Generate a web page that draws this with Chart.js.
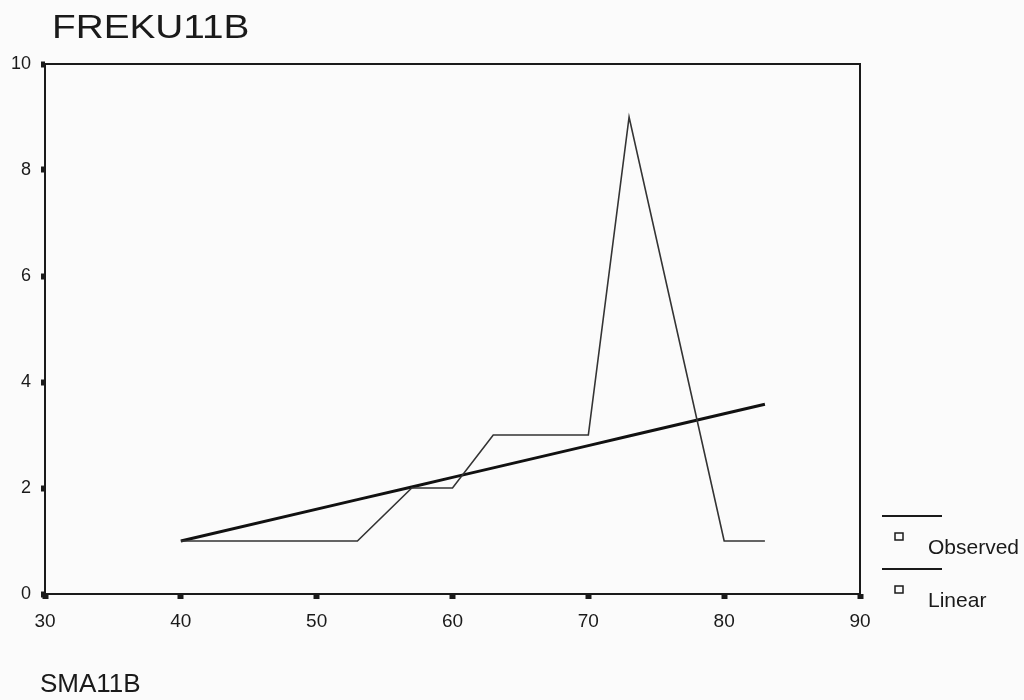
<!DOCTYPE html>
<html>
<head>
<meta charset="utf-8">
<script src="https://cdn.jsdelivr.net/npm/chart.js@4/dist/chart.umd.min.js"></script>
<style>
    body { margin: 0; background: #fbfbfb; font-family: "Liberation Sans", Arial, sans-serif; }
    .wrap { position: relative; width: 1024px; height: 700px; }
    #chart { position: absolute; left: 0; top: 0; }
    .title { position: absolute; left: 52px; top: 9px; font-size: 34px; line-height: 1; color: #1a1a1a;
             transform: scaleX(1.14); transform-origin: left top; }
    .xname { position: absolute; left: 40px; top: 670px; font-size: 26px; line-height: 1; color: #1a1a1a; }
</style>
</head>
<body>
<div class="wrap">
    <canvas id="chart" width="1024" height="700"></canvas>
    <div class="title">FREKU11B</div>
    <div class="xname">SMA11B</div>
</div>
<script>
/* global Chart */

const xValues = [40, 53, 57, 60, 63, 70, 73, 80, 83];
const observedValues = [1, 1, 2, 2, 3, 3, 9, 1, 1];
const linearValues = [1.0, 1.78, 2.02, 2.2, 2.38, 2.8, 2.98, 3.4, 3.58];
const xTicks = [30, 40, 50, 60, 70, 80, 90];
const yTicks = [0, 2, 4, 6, 8, 10];
const seriesNames = ['Observed', 'Linear'];

const ink = '#1a1a1a';

function toPoints(values) {
    return xValues.map((x, i) => ({ x, y: values[i] }));
}

// plot frame on all four sides
const framePlugin = {
    id: 'frame',
    afterDatasetsDraw(chart) {
        const { ctx, chartArea: a } = chart;
        ctx.save();
        ctx.strokeStyle = ink;
        ctx.lineWidth = 2;
        ctx.strokeRect(a.left, a.top, a.right - a.left, a.bottom - a.top);
        ctx.restore();
    }
};

// SPSS style legend: line above, small hollow square with label below
const legendPlugin = {
    id: 'spssLegend',
    afterDraw(chart) {
        const { ctx } = chart;
        ctx.save();
        ctx.font = '21px "Liberation Sans", Arial, sans-serif';
        ctx.textBaseline = 'middle';
        chart.data.datasets.forEach((ds, i) => {
            const top = 516 + i * 53;
            ctx.strokeStyle = ink;
            ctx.lineWidth = 2;
            ctx.beginPath();
            ctx.moveTo(882, top);
            ctx.lineTo(942, top);
            ctx.stroke();
            ctx.lineWidth = 1.5;
            ctx.strokeRect(895, top + 17, 8, 7);
            ctx.fillStyle = ink;
            ctx.fillText(ds.label, 928, top + 32);
        });
        ctx.restore();
    }
};

new Chart(document.getElementById('chart'), {
    type: 'scatter',
    data: {
        datasets: [
            {
                label: seriesNames[0],
                data: toPoints(observedValues),
                showLine: true,
                borderColor: '#333',
                borderWidth: 1.6,
                pointRadius: 0,
                tension: 0
            },
            {
                label: seriesNames[1],
                data: toPoints(linearValues),
                showLine: true,
                borderColor: '#111',
                borderWidth: 3,
                pointRadius: 0,
                tension: 0
            }
        ]
    },
    options: {
        responsive: false,
        animation: false,
        layout: {
            padding: { top: 64, right: 164, bottom: 70, left: 0 }
        },
        plugins: {
            legend: { display: false },
            tooltip: { enabled: false }
        },
        scales: {
            x: {
                type: 'linear',
                min: 30,
                max: 90,
                afterBuildTicks: scale => { scale.ticks = xTicks.map(v => ({ value: v })); },
                afterFit: scale => { scale.height = 36; },
                border: { display: false },
                grid: {
                    drawOnChartArea: false,
                    tickLength: 5,
                    tickWidth: 6,
                    tickColor: ink
                },
                ticks: {
                    color: ink,
                    padding: 11,
                    maxRotation: 0,
                    font: { family: '"Liberation Sans", Arial, sans-serif', size: 19 }
                }
            },
            y: {
                type: 'linear',
                min: 0,
                max: 10,
                afterBuildTicks: scale => { scale.ticks = yTicks.map(v => ({ value: v })); },
                afterFit: scale => { scale.width = 45; },
                border: { display: false },
                grid: {
                    drawOnChartArea: false,
                    tickLength: 4,
                    tickWidth: 6,
                    tickColor: ink
                },
                ticks: {
                    color: ink,
                    padding: 10,
                    font: { family: '"Liberation Sans", Arial, sans-serif', size: 18 }
                }
            }
        }
    },
    plugins: [framePlugin, legendPlugin]
});
</script>
</body>
</html>
